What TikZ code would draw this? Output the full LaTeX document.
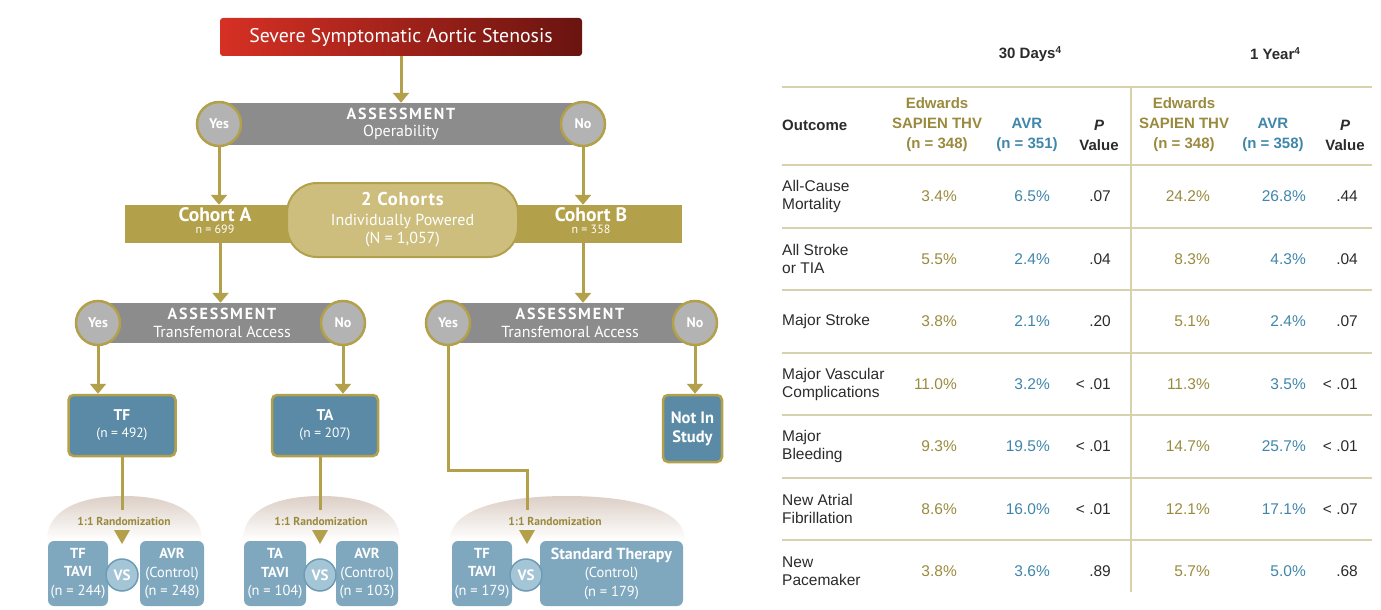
\documentclass[tikz,border=0pt]{standalone}
\usepackage{fontspec}
\setmainfont{Liberation Sans}
\newfontfamily\flowfont{PT Sans}
\newfontfamily\trackfont[LetterSpace=11]{PT Sans}
\newfontfamily\cohortfont[LetterSpace=5]{PT Sans}
\usetikzlibrary{arrows.meta,positioning}

\definecolor{gold}{HTML}{B3A04A}
\definecolor{paleGold}{HTML}{CDBE7E}
\definecolor{barGray}{HTML}{8C8C8C}
\definecolor{dotGray}{HTML}{B3B3B3}
\definecolor{deepBlue}{HTML}{5A8AA6}
\definecolor{softBlue}{HTML}{7FA8BF}
\definecolor{vsBlue}{HTML}{A4C5D6}
\definecolor{vsRim}{HTML}{6F9CB5}
\definecolor{redL}{HTML}{D63024}
\definecolor{redR}{HTML}{6A1410}
\definecolor{domeTop}{HTML}{DCCFC6}
\definecolor{ruleTan}{HTML}{D8D1AE}
\definecolor{txtGold}{HTML}{9A8A3E}
\definecolor{txtBlue}{HTML}{3F86AA}
\definecolor{txtDark}{HTML}{2B2B2B}

\tikzset{
    line/.style={draw=gold, line width=3pt},
    flow/.style={line, -{Triangle[width=16pt,length=10pt]}},
    bar/.style={fill=barGray, minimum height=42pt, inner sep=0pt},
    bartext/.style={text=white, align=center, inner sep=0pt,
                    font=\flowfont\fontsize{16}{17.5}\selectfont},
    dot/.style={circle, fill=dotGray, draw=gold, line width=2.5pt, minimum size=44pt,
                inner sep=0pt, text=white, font=\flowfont\fontsize{14}{14}\selectfont\bfseries},
    cohort/.style={text=white, inner sep=0pt, font=\flowfont\fontsize{19.5}{19.5}\selectfont\bfseries},
    tinytext/.style={text=white, inner sep=0pt, font=\flowfont\fontsize{12}{12}\selectfont},
    armbox/.style={fill=deepBlue, draw=gold, line width=2.5pt, rounded corners=5pt, inner sep=0pt,
                   text=white, align=center, font=\flowfont\fontsize{15.5}{17}\selectfont},
    groupbox/.style={fill=softBlue, rounded corners=6pt, inner sep=0pt, minimum height=65pt,
                     text=white, align=center, font=\flowfont\fontsize{14.5}{18.5}\selectfont},
    vs/.style={circle, fill=vsBlue, draw=vsRim, line width=1.5pt, minimum size=32pt, inner sep=0pt,
               text=white, font=\flowfont\fontsize{15}{15}\selectfont\bfseries},
    randtext/.style={text=txtGold, inner sep=0pt, font=\flowfont\fontsize{11.5}{11.5}\selectfont\bfseries},
    rule/.style={draw=ruleTan, line width=1.8pt},
    cell/.style={inner sep=0pt, text=txtDark, font=\fontsize{15.5}{18}\selectfont},
    head/.style={cell, align=center, font=\fontsize{15}{20}\selectfont\bfseries}
}

\begin{document}
\begin{tikzpicture}[x=1pt,y=-1pt]
    \useasboundingbox (0,0) rectangle (1381,610);

    \node (top) at (401,37) [rounded corners=3pt, left color=redL, right color=redR,
        minimum width=362pt, minimum height=38pt, text=white,
        font=\flowfont\fontsize{19.8}{19.8}\selectfont] {Severe Symptomatic Aortic Stenosis};

    \node (ass1) at (401,124) [bar, minimum width=364pt] {};
    \node (yes1) at (219,124) [dot] {Yes};
    \node (no1) at (583,124) [dot] {No};
    \node (ass1-txt) at (401,124) [bartext] {{\trackfont\bfseries ASSESSMENT}\\Operability};

    \node (cohbar) at (403.5,224) [fill=gold, minimum width=557pt, minimum height=38pt, inner sep=0pt] {};
    \node (pill) at (402.5,220) [fill=paleGold, draw=gold, line width=2pt, rounded corners=30pt,
        minimum width=231pt, minimum height=74pt, inner sep=0pt, text=white, align=center,
        font=\flowfont\fontsize{16}{18.5}\selectfont]
        {{\cohortfont\fontsize{18.5}{18.5}\selectfont\bfseries 2 Cohorts}\\[1pt]Individually Powered\\(N = 1,057)};
    \node (cohA) at (215,214.5) [cohort] {Cohort A};
    \node (cohAn) [below=3pt of cohA, tinytext] {n = 699};
    \node (cohB) at (591,214.5) [cohort] {Cohort B};
    \node (cohBn) [below=3pt of cohB, tinytext] {n = 358};

    \node (ass2L) at (220.5,323) [bar, minimum width=245pt, minimum height=40pt] {};
    \node (ass2R) at (571.5,323) [bar, minimum width=247pt, minimum height=40pt] {};
    \node (yes2L) at (98,323) [dot] {Yes};
    \node (no2L) at (343,323) [dot] {No};
    \node (yes2R) at (448,323) [dot] {Yes};
    \node (no2R) at (695,323) [dot] {No};
    \node (ass2L-txt) at (222,323) [bartext] {{\trackfont\bfseries ASSESSMENT}\\Transfemoral Access};
    \node (ass2R-txt) at (570,323) [bartext] {{\trackfont\bfseries ASSESSMENT}\\Transfemoral Access};

    \node (tf) at (122,425.5) [armbox, minimum width=107pt, minimum height=61pt]
        {{\bfseries TF}\\{\fontsize{13.5}{13.5}\selectfont(n = 492)}};
    \node (ta) at (325,425.5) [armbox, minimum width=106pt, minimum height=61pt]
        {{\bfseries TA}\\{\fontsize{13.5}{13.5}\selectfont(n = 207)}};
    \node (nis) at (692.5,428.5) [armbox, minimum width=59pt, minimum height=67pt,
        font=\flowfont\fontsize{16.5}{19}\selectfont\bfseries] {Not In\\Study};

    \shade[top color=domeTop, bottom color=white]
        (47,540) .. controls (47,510) and (80,496) .. (124,496) .. controls (168,496) and (202,510) .. (202,540) -- cycle;
    \shade[top color=domeTop, bottom color=white]
        (243,540) .. controls (243,510) and (276,496) .. (321,496) .. controls (366,496) and (400,510) .. (400,540) -- cycle;
    \shade[top color=domeTop, bottom color=white]
        (450,540) .. controls (450,510) and (500,496) .. (567,496) .. controls (634,496) and (685,510) .. (685,540) -- cycle;
    \node (rand1) at (124,521) [randtext] {1:1 Randomization};
    \node (rand2) at (321,521) [randtext] {1:1 Randomization};
    \node (rand3) at (555,521) [randtext] {1:1 Randomization};
    \foreach \x in {122,320,527}
        \fill[gold] (\x-8,530) -- (\x+8,530) -- (\x,544) -- cycle;

    \node (tavi1) at (78,573.5) [groupbox, minimum width=60pt] {{\bfseries TF}\\{\bfseries TAVI}\\(n = 244)};
    \node (avr1) at (172,573.5) [groupbox, minimum width=64pt] {{\bfseries AVR}\\(Control)\\(n = 248)};
    \node (tavi2) at (275,573.5) [groupbox, minimum width=62pt] {{\bfseries TA}\\{\bfseries TAVI}\\(n = 104)};
    \node (avr2) at (367,573.5) [groupbox, minimum width=62pt] {{\bfseries AVR}\\(Control)\\(n = 103)};
    \node (tavi3) at (482,573.5) [groupbox, minimum width=60pt] {{\bfseries TF}\\{\bfseries TAVI}\\(n = 179)};
    \node (std3) at (611.5,573.5) [groupbox, minimum width=143pt] {{\fontsize{16}{16}\selectfont\bfseries Standard Therapy}\\(Control)\\(n = 179)};
    \node (vs1) at (122,575) [vs] {VS};
    \node (vs2) at (320,575) [vs] {VS};
    \node (vs3) at (526,575) [vs] {VS};

    \coordinate (rnd1) at (122,510);
    \coordinate (rnd2) at (320,510);
    \coordinate (rnd3) at (527,510);
    \coordinate (bend) at (527,470);
    \coordinate (ya) at (yes1.south |- cohbar.north);
    \coordinate (nb) at (no1.south |- cohbar.north);
    \coordinate (ca) at (ass2L.north |- cohbar.south);
    \coordinate (cb) at (no1.south |- cohbar.south);
    \coordinate (cb2) at (no1.south |- ass2R.north);
    \coordinate (tfin) at (yes2L.south |- tf.north);
    \coordinate (tain) at (no2L.south |- ta.north);
    \coordinate (nisin) at (no2R.south |- nis.north);
    \coordinate (taout) at (rnd2 |- ta.south);

    \foreach \Source/\Target in {%
        top.south/ass1.north,
        yes1.south/ya,
        no1.south/nb,
        ca/ass2L.north,
        cb/cb2,
        yes2L.south/tfin,
        no2L.south/tain,
        no2R.south/nisin%
        }
        \draw[flow] (\Source) -- (\Target);
    \foreach \Source/\Target in {tf.south/rnd1, taout/rnd2}
        \draw[line] (\Source) -- (\Target);
    \draw[line] (yes2R.south) |- (bend) -- (rnd3);

    \node (d30) at (1030,54) [head] {30 Days{\fontsize{10}{10}\selectfont\raisebox{5pt}{4}}};
    \node (y1) at (1275,54) [head] {1 Year{\fontsize{10}{10}\selectfont\raisebox{5pt}{4}}};
    \foreach \y in {87,165,228,290,353,415,478,540}
        \draw[rule] (782,\y) -- (1372,\y);
    \draw[rule] (1131,87) -- (1131,592);

    \node (outcome) at (782,125) [head, anchor=west] {Outcome};
    \node (e30-h) at (937,125) [head, text=txtGold] {Edwards\\SAPIEN THV\\(n = 348)};
    \node (a30-h) at (1027,135) [head, text=txtBlue] {AVR\\(n = 351)};
    \node (p30-h) at (1099,135) [head] {{\itshape P}\\Value};
    \node (e1y-h) at (1184,125) [head, text=txtGold] {Edwards\\SAPIEN THV\\(n = 348)};
    \node (a1y-h) at (1273,135) [head, text=txtBlue] {AVR\\(n = 358)};
    \node (p1y-h) at (1345,135) [head] {{\itshape P}\\Value};

    \foreach \row/\lab/\ea/\aa/\pa/\eb/\ab/\pb in {%
        1/{All-Cause\\Mortality}/3.4/6.5/.07/24.2/26.8/.44,
        2/{All Stroke\\or TIA}/5.5/2.4/.04/8.3/4.3/.04,
        3/{Major Stroke}/3.8/2.1/.20/5.1/2.4/.07,
        4/{Major Vascular\\Complications}/11.0/3.2/{< .01}/11.3/3.5/{< .01},
        5/{Major\\Bleeding}/9.3/19.5/{< .01}/14.7/25.7/{< .01},
        6/{New Atrial\\Fibrillation}/8.6/16.0/{< .01}/12.1/17.1/{< .07},
        7/{New\\Pacemaker}/3.8/3.6/.89/5.7/5.0/.68%
        }{
        \pgfmathsetmacro{\yc}{196.5+62.5*(\row-1)}
        \node (out-\row) at (782,\yc) [cell, anchor=west, align=left] {\lab};
        \node (e30-\row) at (957,\yc) [cell, anchor=east, text=txtGold] {\ea\%};
        \node (a30-\row) at (1050,\yc) [cell, anchor=east, text=txtBlue] {\aa\%};
        \node (p30-\row) at (1111,\yc) [cell, anchor=east] {\pa};
        \node (e1y-\row) at (1210,\yc) [cell, anchor=east, text=txtGold] {\eb\%};
        \node (a1y-\row) at (1306,\yc) [cell, anchor=east, text=txtBlue] {\ab\%};
        \node (p1y-\row) at (1358,\yc) [cell, anchor=east] {\pb};
    }
\end{tikzpicture}
\end{document}
